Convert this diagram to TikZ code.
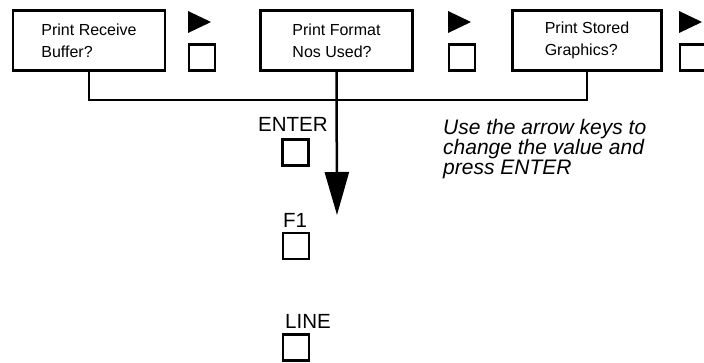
\documentclass[tikz,border=0pt]{standalone}
\usepackage{fontspec}
\setmainfont{Liberation Sans}
\usetikzlibrary{arrows.meta,positioning}

\begin{document}
\begin{tikzpicture}[
  x=1pt,y=-1pt,
  menubox/.style={draw,line width=2.2pt,minimum width=152pt,minimum height=60pt,
                  align=left,font=\fontsize{16}{22}\selectfont},
  keysq/.style={draw,line width=2.2pt,minimum width=26pt,minimum height=26pt,inner sep=0pt},
  keylbl/.style={anchor=base west,inner sep=0pt,font=\fontsize{20.5}{20}\selectfont},
  wire/.style={line width=2.5pt},
  arr/.style={wire,-{Triangle[length=43pt,width=24pt]}}
]
\useasboundingbox (0,0) rectangle (704,362);
% menu entries
\node[menubox] (rcv) at (89,40.5) {Print Receive\\Buffer?};
\node[menubox] (fmt) at (336.5,40.5) {Print Format\\Nos Used?};
\node[menubox,minimum width=149pt] (gfx) at (587,40.5) {Print Stored\\Graphics?};
% next keys
\foreach \x/\i in {188/1,448/2,679/3} {
  \fill (\x,11) -- (\x+23,22) -- (\x,33) -- cycle;
  \node[keysq] (nxt\i) at (\x+14,57.5) {};
}
% bus
\coordinate (bus) at (0,100);
\coordinate (tip) at (337,215);
\draw[wire] (rcv.south) -- (rcv.south |- bus) -- (gfx.south |- bus) -- (gfx.south);
\draw[arr] (fmt.south) -- (tip);
% keys
\node[keysq] (entsq) at (295.5,152.5) {};
\node[keylbl] (ent) at (258,131) {ENTER};
\node[keysq] (f1sq) at (296,246) {};
\node[keylbl] (f1) at (283,227) {F1};
\node[keysq] (linesq) at (296,347.5) {};
\node[keylbl] (line) at (285,328) {LINE};
% hint
\node[anchor=north west,inner sep=0pt,align=left,
      font=\fontsize{21}{20}\itshape] (hint) at (443,119.5)
  {Use the arrow keys to\\change the value and\\press ENTER};
\end{tikzpicture}
\end{document}
